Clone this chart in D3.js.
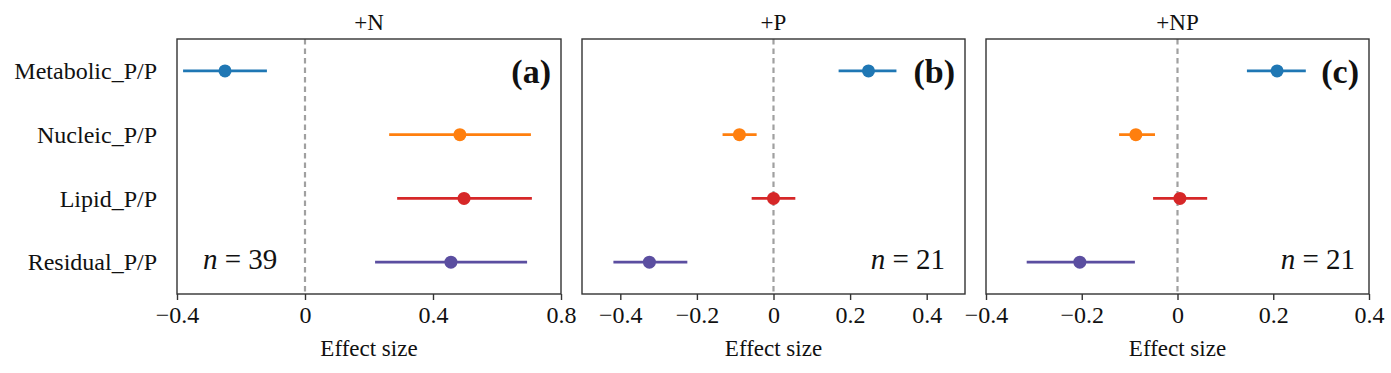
<!DOCTYPE html>
<html>
<head>
<meta charset="utf-8">
<script src="https://cdn.jsdelivr.net/npm/d3@7"></script>
<style>
  html, body { margin: 0; padding: 0; background: #fff; }
  svg { display: block; }
  svg text { font-family: "Liberation Serif", "Times New Roman", serif !important; }
</style>
</head>
<body>
<svg id="chart" width="1391" height="373"></svg>
<script>
// ---- data ----
const categories = ["Metabolic_P/P", "Nucleic_P/P", "Lipid_P/P", "Residual_P/P"];
const categoryColors = ["#1f77b4", "#ff7f0e", "#d62728", "#5b4ea0"];
const panelTitles = ["+N", "+P", "+NP"];
const panelLetters = ["(a)", "(b)", "(c)"];
const sampleSizes = [39, 21, 21];

const meanN  = [-0.250, 0.484, 0.497, 0.456];
const lowN   = [-0.381, 0.263, 0.288, 0.219];
const highN  = [-0.119, 0.706, 0.709, 0.694];

const meanP  = [0.248, -0.089, 0.000, -0.324];
const lowP   = [0.170, -0.133, -0.057, -0.418];
const highP  = [0.321, -0.044, 0.057, -0.225];

const meanNP = [0.208, -0.087, 0.005, -0.204];
const lowNP  = [0.145, -0.122, -0.051, -0.315];
const highNP = [0.268, -0.047, 0.062, -0.089];

const xDomainN  = [-0.4, 0.8];
const xDomainP  = [-0.5, 0.5];
const xDomainNP = [-0.4, 0.4];

const xTicksN  = [-0.4, 0, 0.4, 0.8];
const xTicksP  = [-0.4, -0.2, 0, 0.2, 0.4];
const xTicksNP = [-0.4, -0.2, 0, 0.2, 0.4];

const xAxisLabel = "Effect size";

// ---- layout ----
const svg = d3.select("#chart");
const FONT = "'Liberation Serif', 'Times New Roman', serif";
const plotTop = 39, plotBottom = 294;
const panels = [
  { x0: 177, x1: 561, dom: xDomainN,  ticks: xTicksN,  mean: meanN,  low: lowN,  high: highN,  nPos: "left"  },
  { x0: 582, x1: 965, dom: xDomainP,  ticks: xTicksP,  mean: meanP,  low: lowP,  high: highP,  nPos: "right" },
  { x0: 986, x1: 1369, dom: xDomainNP, ticks: xTicksNP, mean: meanNP, low: lowNP, high: highNP, nPos: "right" }
];

const y = d3.scalePoint().domain(categories).range([plotTop, plotBottom]).padding(0.5);
const fmt = d => d === 0 ? "0" : d3.format(".1f")(d);

panels.forEach((p, i) => {
  const x = d3.scaleLinear().domain(p.dom).range([p.x0, p.x1]);
  const g = svg.append("g");

  // zero line
  g.append("line")
    .attr("x1", x(0)).attr("x2", x(0))
    .attr("y1", plotTop).attr("y2", plotBottom)
    .attr("stroke", "#a0a0a0").attr("stroke-width", 2.2)
    .attr("stroke-dasharray", "5.5,4");

  // error bars + points
  categories.forEach((c, k) => {
    g.append("line")
      .attr("x1", x(p.low[k])).attr("x2", x(p.high[k]))
      .attr("y1", y(c)).attr("y2", y(c))
      .attr("stroke", categoryColors[k]).attr("stroke-width", 2.6);
    g.append("circle")
      .attr("cx", x(p.mean[k])).attr("cy", y(c)).attr("r", 6.5)
      .attr("fill", categoryColors[k]);
  });

  // frame
  g.append("rect")
    .attr("x", p.x0).attr("y", plotTop)
    .attr("width", p.x1 - p.x0).attr("height", plotBottom - plotTop)
    .attr("fill", "none").attr("stroke", "#333").attr("stroke-width", 1.4);

  // x axis
  const ax = g.append("g").attr("transform", `translate(0,${plotBottom})`)
    .call(d3.axisBottom(x).tickValues(p.ticks).tickFormat(fmt).tickSize(6).tickPadding(6));
  ax.attr("font-family", FONT).attr("font-size", 24);
  ax.select(".domain").remove();
  ax.selectAll(".tick line").attr("stroke", "#333").attr("stroke-width", 1.4);
  ax.selectAll(".tick text").style("font-size", "24px").attr("fill", "#111");

  // x label
  g.append("text")
    .attr("x", (p.x0 + p.x1) / 2).attr("y", 356)
    .attr("text-anchor", "middle")
    .style("font-size", "23px").attr("fill", "#111")
    .text(xAxisLabel);

  // title
  g.append("text")
    .attr("x", (p.x0 + p.x1) / 2).attr("y", 30)
    .attr("text-anchor", "middle")
    .style("font-size", "23px").attr("fill", "#111")
    .text(panelTitles[i]);

  // panel letter
  g.append("text")
    .attr("x", p.x1 - 10).attr("y", 83)
    .attr("text-anchor", "end")
    .style("font-size", "34px").style("font-weight", "bold").attr("fill", "#111")
    .text(panelLetters[i]);

  // n label
  const nt = g.append("text")
    .attr("y", 269)
    .style("font-size", "29px").attr("fill", "#111");
  if (p.nPos === "left") nt.attr("x", p.x0 + 26).attr("text-anchor", "start");
  else nt.attr("x", p.x1 - (i === 1 ? 20 : 14)).attr("text-anchor", "end");
  nt.append("tspan").style("font-style", "italic").text("n");
  nt.append("tspan").text(" = " + sampleSizes[i]);

  // y axis labels only on first panel
  if (i === 0) {
    const ay = g.append("g").attr("transform", `translate(${p.x0},0)`)
      .call(d3.axisLeft(y).tickSize(0).tickPadding(20));
    ay.attr("font-family", FONT);
    ay.select(".domain").remove();
    ay.selectAll(".tick text").style("font-size", "24px").attr("fill", "#111");
  }
});
</script>
</body>
</html>
